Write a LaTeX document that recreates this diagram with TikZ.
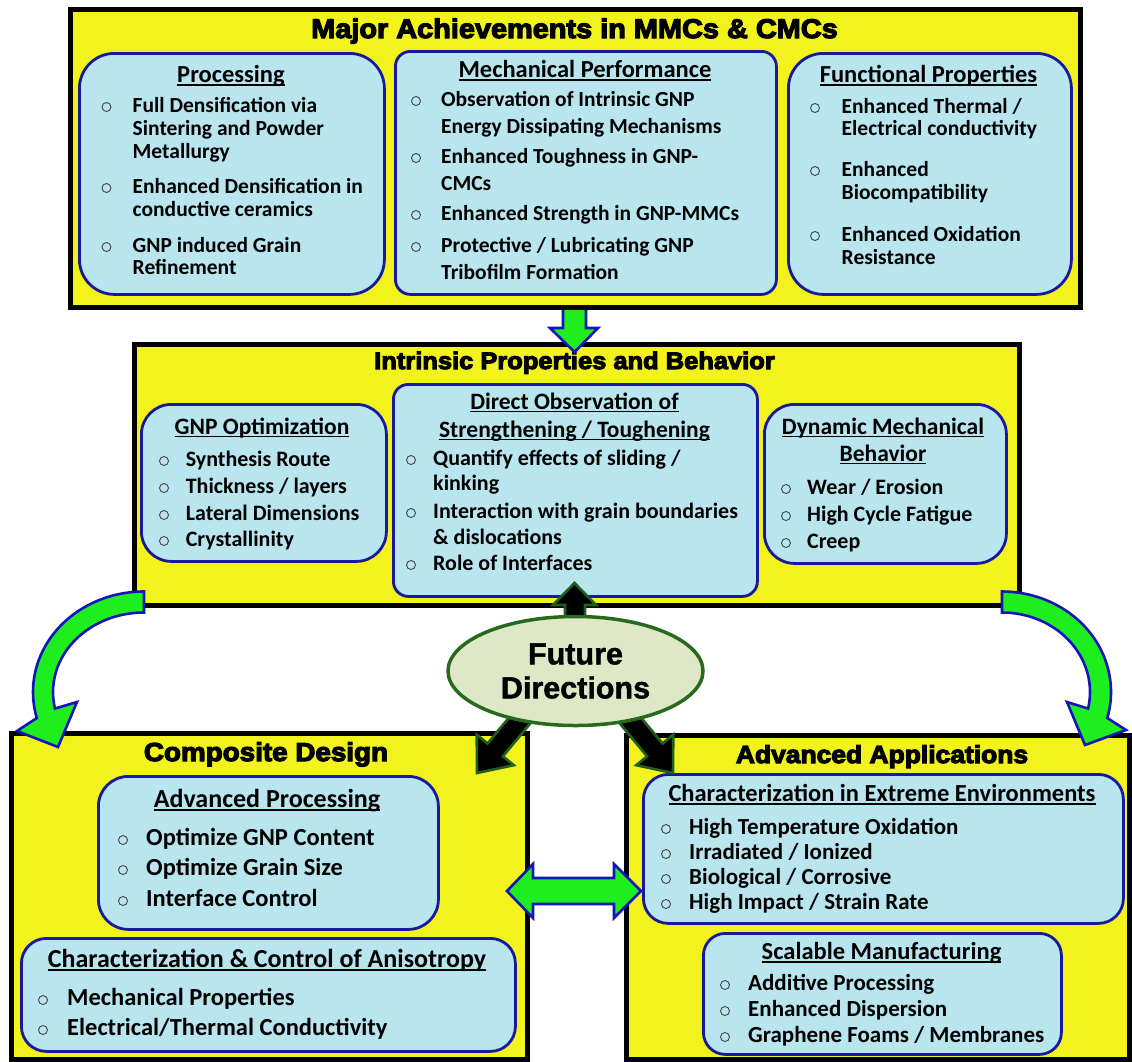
\documentclass[tikz,border=0pt]{standalone}
\usepackage{fontspec}
\setmainfont{Carlito}
\newfontfamily\blackfam[FakeStretch=1.07,BoldFeatures={FakeBold=4.5}]{Liberation Sans}
\newfontfamily\arialfam[BoldFeatures={FakeBold=1.5}]{Liberation Sans}
\usetikzlibrary{calc,shapes.geometric}
\definecolor{yel}{RGB}{242,242,28}
\definecolor{lblue}{RGB}{185,230,238}
\definecolor{dblue}{RGB}{25,25,160}
\definecolor{agreen}{RGB}{30,238,30}
\definecolor{ablue}{RGB}{20,20,190}
\definecolor{dgreen}{RGB}{30,95,30}
\definecolor{elfill}{RGB}{222,232,198}
\definecolor{elline}{RGB}{40,105,30}
\definecolor{bulc}{RGB}{70,70,70}
\newcounter{nn}
\newcommand\curfont{}
\newcommand\setbody[1]{\renewcommand\curfont{\fontsize{#1}{#1}\selectfont\bfseries}}
\newcommand\ulx[1]{\setbox0\hbox{#1}\rlap{\rule[-0.13em]{\wd0}{0.075em}}\box0}
\newcommand\bl[4]{\stepcounter{nn}\node[bull] (b\thenn) at (#1,#3) {};\node[txt] (l\thenn) at (#2,#3) {#4};}
\newcommand\cl[3]{\stepcounter{nn}\node[txt] (l\thenn) at (#1,#2) {#3};}
\newcommand\tl[4]{\stepcounter{nn}\node[ttl, font=\fontsize{#3}{#3}\selectfont\bfseries] (h\thenn) at (#1,#2) {\ulx{#4}};}
\newcommand\boxn[6][]{\node[#1, anchor=north west, minimum width=#5-#3, minimum height=#6-#4, inner sep=0] (#2) at (#3,#4) {};}
\tikzset{
  blk/.style={draw=black, line width=4.5, fill=yel},
  rbox/.style={draw=dblue, line width=2.8, fill=lblue, rounded corners=#1},
  rbox/.default=30pt,
  txt/.style={anchor=mid west, inner sep=0, font=\curfont, yshift=-5pt},
  bull/.style={circle, draw=bulc, line width=0.9, minimum size=9, inner sep=0, yshift=-2pt},
  ttl/.style={anchor=mid, inner sep=0, yshift=-5pt},
  head/.style={anchor=base, inner sep=0, font=\blackfam\bfseries\fontsize{#1}{#1}\selectfont},
  garrow/.style={fill=agreen, draw=ablue, line width=2.6, line join=miter},
  karrow/.style={fill=black, draw=dgreen, line width=2.6, line join=miter}
}
\begin{document}
\begin{tikzpicture}[x=1pt,y=-1pt]
\useasboundingbox (0,0) rectangle (1132,1061);
% ---------- middle box
\boxn[blk]{mid}{132}{342}{1017}{603}
\node[head=23.8] (midt) at (574.5,369) {Intrinsic Properties and Behavior};
\boxn[rbox=30pt]{gnp}{140}{403}{385}{560}
\boxn[rbox=15pt]{dobs}{392}{383}{756}{595}
\boxn[rbox=30pt]{dyn}{763}{403}{1005}{562}
\setbody{22}
\tl{262}{427}{23.5}{GNP Optimization}
\bl{164}{185.6}{459}{Synthesis Route}
\bl{164}{185.6}{486}{Thickness / layers}
\bl{164}{185.6}{513}{Lateral Dimensions}
\bl{164}{185.6}{539}{Crystallinity}
\tl{574.5}{402}{23.5}{Direct Observation of}
\tl{574.5}{430}{23.5}{Strengthening / Toughening}
\bl{411}{433}{458}{Quantify effects of sliding /}
\cl{433}{483}{kinking}
\bl{411}{433}{511}{Interaction with grain boundaries}
\cl{433}{537}{\& dislocations}
\bl{411}{433}{563}{Role of Interfaces}
\tl{883}{427}{23.5}{Dynamic Mechanical}
\tl{883}{454}{23.5}{Behavior}
\bl{786}{807}{487}{Wear / Erosion}
\bl{786}{807}{514}{High Cycle Fatigue}
\bl{786}{807}{541}{Creep}
% ---------- bottom left
\boxn[blk]{cd}{9}{731}{525}{1057}
\node[head=26] (cdt) at (266,761) {Composite Design};
\boxn[rbox=30pt]{advp}{97}{775}{437}{928}
\boxn[rbox=25pt]{anis}{20}{937}{514}{1050}
\setbody{24.5}
\tl{267}{800}{26}{Advanced Processing}
\bl{123}{146}{838}{Optimize GNP Content}
\bl{123}{146}{868}{Optimize Grain Size}
\bl{123}{146}{899}{Interface Control}
\tl{267}{960}{26}{Characterization \& Control of Anisotropy}
\bl{43}{67}{998}{Mechanical Properties}
\bl{43}{67}{1028}{Electrical/Thermal Conductivity}
% ---------- bottom right
\boxn[blk]{aa}{624}{733}{1127}{1057}
\node[head=24.7] (aat) at (882,763) {Advanced Applications};
\boxn[rbox=25pt]{ext}{642}{773}{1122}{922}
\boxn[rbox=22pt]{scal}{702}{932}{1060}{1053}
\setbody{23}
\tl{882}{794}{24.5}{Characterization in Extreme Environments}
\bl{666}{689}{827}{High Temperature Oxidation}
\bl{666}{689}{852}{Irradiated / Ionized}
\bl{666}{689}{877}{Biological / Corrosive}
\bl{666}{689}{902}{High Impact / Strain Rate}
\tl{881.5}{952}{24.5}{Scalable Manufacturing}
\bl{725}{748}{983}{Additive Processing}
\bl{725}{748}{1009}{Enhanced Dispersion}
\bl{725}{748}{1035}{Graphene Foams / Membranes}
% ---------- green down arrow
\draw[garrow] (563,296) -- (563,328) -- (550,328) -- (574.5,352) -- (598,328) -- (586,328) -- (586,296) -- cycle;
% ---------- top box
\boxn[blk]{top}{68}{7}{1078}{305}
\node[head=27] (topt) at (574.5,38) {Major Achievements in MMCs \& CMCs};
\boxn[rbox=35pt]{proc}{78}{52}{383}{293}
\boxn[rbox=15pt]{mech}{394}{50}{775}{293}
\boxn[rbox=35pt]{func}{787}{52}{1070}{293}
\setbody{21.5}
\tl{231}{75}{24.5}{Processing}
\bl{106.5}{132.5}{105}{Full Densification via}
\cl{132.5}{128}{Sintering and Powder}
\cl{132.5}{151}{Metallurgy}
\bl{106.5}{132.5}{186}{Enhanced Densification in}
\cl{132.5}{209}{conductive ceramics}
\bl{106.5}{132.5}{245}{GNP induced Grain}
\cl{132.5}{267}{Refinement}
\tl{585}{70}{24.5}{Mechanical Performance}
\bl{416}{441}{99}{Observation of Intrinsic GNP}
\cl{441}{126}{Energy Dissipating Mechanisms}
\bl{416}{441}{156}{Enhanced Toughness in GNP-}
\cl{441}{183}{CMCs}
\bl{416}{441}{213}{Enhanced Strength in GNP-MMCs}
\bl{416}{441}{245}{Protective / Lubricating GNP}
\cl{441}{272}{Tribofilm Formation}
\tl{928.5}{75}{24.5}{Functional Properties}
\bl{815}{841.5}{106}{Enhanced Thermal /}
\cl{841.5}{128}{Electrical conductivity}
\bl{815}{841.5}{169}{Enhanced}
\cl{841.5}{192}{Biocompatibility}
\bl{815}{841.5}{234}{Enhanced Oxidation}
\cl{841.5}{257}{Resistance}
% ---------- curved arrows
\coordinate (cL) at (144,692);
\coordinate (cR) at (1002,692);
\draw[garrow] ($(cL)+(270:111 and 100.5)$) arc[start angle=270, end angle=165, x radius=111, y radius=100.5]
  -- (17,731) -- (58,747) -- (77,702) -- ($(cL)+(168:91 and 79.5)$)
  arc[start angle=168, end angle=270, x radius=91, y radius=79.5] -- cycle;
\draw[garrow] ($(cR)+(-90:109 and 100.5)$) arc[start angle=-90, end angle=15, x radius=109, y radius=100.5]
  -- (1126,730) -- (1085,745) -- (1067,702) -- ($(cR)+(12:88 and 79.5)$)
  arc[start angle=12, end angle=-90, x radius=88, y radius=79.5] -- cycle;
% ---------- black arrows
\draw[karrow] (565,640) -- (565,605) -- (553,605) -- (574.5,583) -- (596,605) -- (585,605) -- (585,640) -- cycle;
\draw[karrow] (537.7,714.4) -- (502.9,756.3) -- (513.7,765.2) -- (477,773) -- (476.7,734.6) -- (487.5,743.5) -- (522.3,701.6) -- cycle;
\draw[karrow] (612.3,714.4) -- (647.1,756.3) -- (636.3,765.2) -- (673,773) -- (673.3,734.6) -- (662.5,743.5) -- (627.7,701.6) -- cycle;
% ---------- double arrow
\draw[garrow] (507,891) -- (533,864) -- (533,878) -- (614,878) -- (614,864) -- (641,891) -- (614,918) -- (614,904) -- (533,904) -- (533,918) -- cycle;
% ---------- ellipse
\node[ellipse, draw=elline, line width=3.5, fill=elfill, minimum width=255, minimum height=109, inner sep=0, align=center, font=\arialfam\bfseries\fontsize{30.5}{34}\selectfont] (fd) at (575.5,671) {Future\\Directions};
\end{tikzpicture}
\end{document}
